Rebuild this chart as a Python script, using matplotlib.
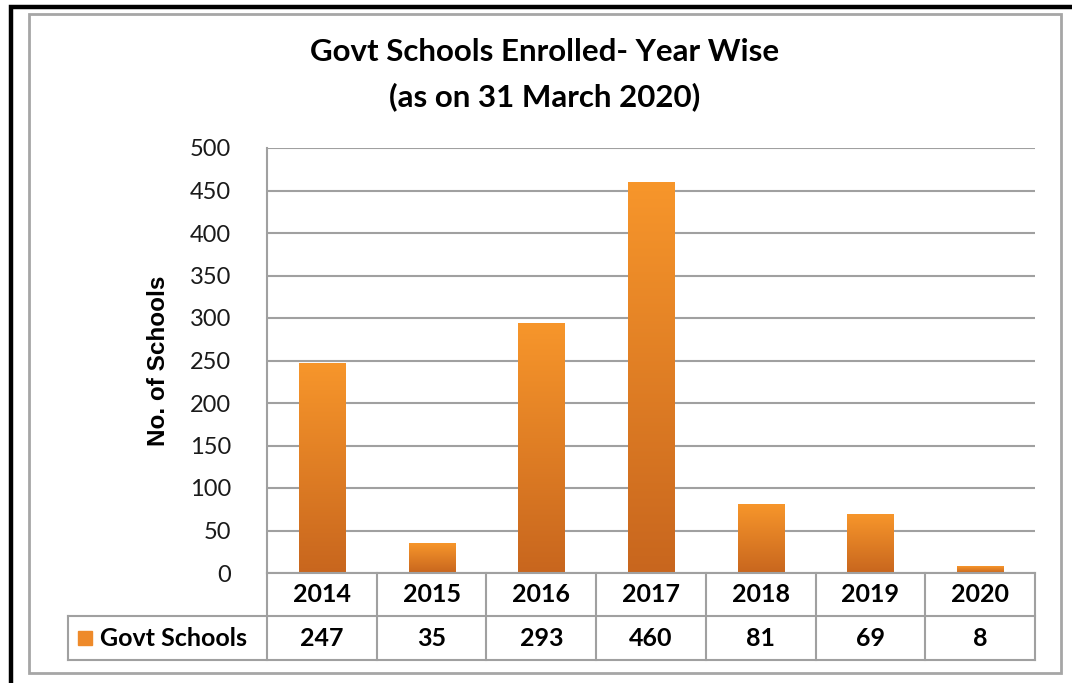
import matplotlib
matplotlib.use("Agg")
import matplotlib.pyplot as plt
import numpy as np
from matplotlib.patches import Rectangle
from matplotlib.lines import Line2D
from matplotlib.colors import LinearSegmentedColormap

years = ["2014", "2015", "2016", "2017", "2018", "2019", "2020"]
govt_schools = [247, 35, 293, 460, 81, 69, 8]
series_name = "Govt Schools"
title_lines = ["Govt Schools Enrolled- Year Wise", "(as on 31 March 2020)"]
ylabel = "No. of Schools"
yticks = list(range(0, 501, 50))

W, H = 1072, 683
fig = plt.figure(figsize=(W / 100, H / 100), dpi=100)
FONT = "Lato"

def fx(px):
    return px / W

def fy(py):
    return 1 - py / H

# frame borders
fig.add_artist(Rectangle((fx(10.5), fy(690)), fx(1080) - fx(10.5), fy(6.5) - fy(690),
                         transform=fig.transFigure, fill=False, edgecolor="black", linewidth=3.2))
fig.add_artist(Rectangle((fx(29), fy(673)), fx(1061) - fx(29), fy(14) - fy(673),
                         transform=fig.transFigure, fill=False, edgecolor="#a6a6a6", linewidth=2))

ax = fig.add_axes([fx(267), fy(573), fx(1035) - fx(267), fy(148) - fy(573)])
x = np.arange(len(years))
bars = ax.bar(x, govt_schools, width=0.42, color="#E9822A", zorder=2)

cmap = LinearSegmentedColormap.from_list("og", ["#C8661E", "#F7962B"])
grad = np.linspace(0, 1, 256).reshape(-1, 1)
for b in bars:
    ax.imshow(grad, extent=(b.get_x(), b.get_x() + b.get_width(), 0, b.get_height()),
              origin="lower", cmap=cmap, aspect="auto", zorder=3)

ax.set_xlim(-0.5, len(years) - 0.5)
ax.set_ylim(0, 500)
ax.set_yticks(yticks)
ax.set_yticklabels([str(t) for t in yticks], fontsize=17, fontname=FONT, color="#1a1a1a")
ax.set_xticks([])
ax.tick_params(axis="y", length=0, pad=26)
ax.grid(axis="y", color="#a0a0a0", linewidth=1.5, zorder=0)
ax.set_axisbelow(True)
for s in ["top", "right", "bottom"]:
    ax.spines[s].set_visible(False)
ax.spines["left"].set_color("#a0a0a0")
ax.spines["left"].set_linewidth(1.5)

ax.set_ylabel(ylabel, fontsize=17.5, fontweight="bold", fontname="Liberation Sans", labelpad=14)

# title
fig.text(fx(545), fy(52), title_lines[0], ha="center", va="center", fontsize=22.5,
         fontweight="bold", fontname=FONT)
fig.text(fx(545), fy(97), title_lines[1], ha="center", va="center", fontsize=22.5,
         fontweight="bold", fontname=FONT)

# data table drawn in axes coordinates
axh = 573 - 148
axw = 1035 - 267
r1 = -(616 - 573) / axh
r2 = -(660 - 573) / axh
lx = (68 - 267) / axw
lc = "#a0a0a0"
lw = 1.5
tr = ax.transAxes

def line(xs, ys):
    ax.add_line(Line2D(xs, ys, transform=tr, color=lc, linewidth=lw, clip_on=False, zorder=4))

line([0, 1], [0, 0])
line([lx, 1], [r1, r1])
line([lx, 1], [r2, r2])
line([lx, lx], [r1, r2])
line([0, 0], [0, r2])
n = len(years)
for i in range(1, n + 1):
    line([i / n, i / n], [0, r2])

for i, (yr, v) in enumerate(zip(years, govt_schools)):
    cx = (i + 0.5) / n
    ax.text(cx, r1 / 2, yr, transform=tr, ha="center", va="center", fontsize=18,
            fontweight="bold", fontname=FONT)
    ax.text(cx, (r1 + r2) / 2, str(v), transform=tr, ha="center", va="center", fontsize=18,
            fontweight="bold", fontname=FONT)

# legend key + series name
mk = 14 / axw
ax.add_patch(Rectangle(((78 - 267) / axw, (r1 + r2) / 2 - 7 / axh), mk, 14 / axh,
                       transform=tr, clip_on=False, color="#EE8A2A", zorder=5))
ax.text((100 - 267) / axw, (r1 + r2) / 2, series_name, transform=tr, ha="left", va="center",
        fontsize=18, fontweight="bold", fontname=FONT)

fig.savefig("out.png", dpi=100)
